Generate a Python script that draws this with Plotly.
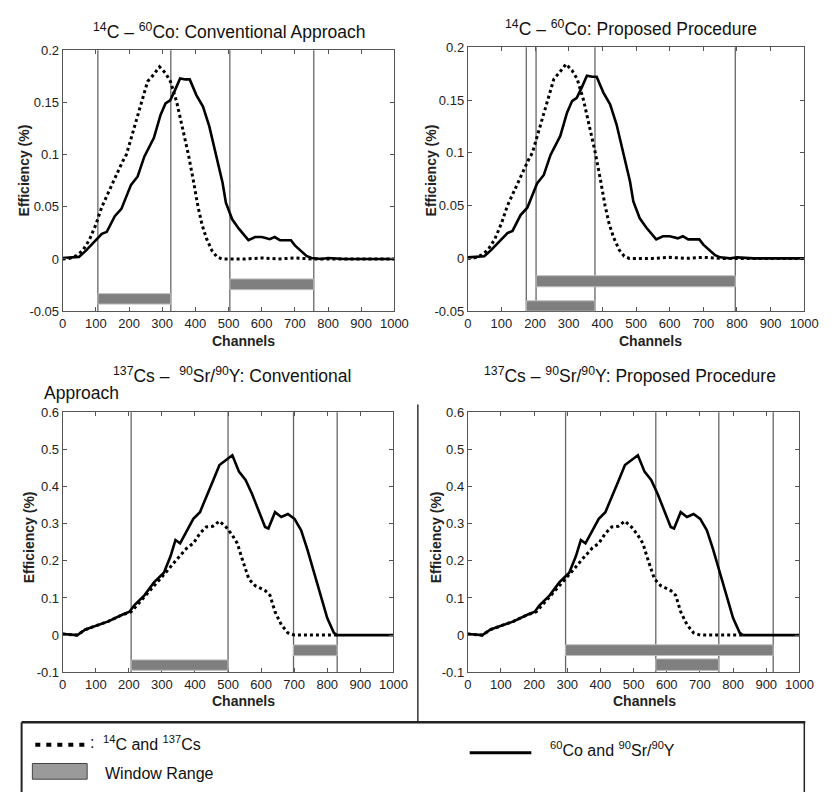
import plotly.graph_objects as go

# ---------------- data ----------------
channels_ticks = [0, 100, 200, 300, 400, 500, 600, 700, 800, 900, 1000]

# 14C (dotted) spectrum
c14_x = [0, 20, 40, 60, 80, 100, 118, 140, 160, 180, 192, 210, 236, 256, 270, 292, 310, 325,
         344, 360, 379, 394, 408, 420, 433, 450, 465, 480, 500, 550, 600, 650, 700, 750, 800, 850, 900, 950, 1000]
c14_y = [0, 0.0005, 0.003, 0.008, 0.018, 0.033, 0.05, 0.065, 0.08, 0.093, 0.10, 0.12, 0.15, 0.17, 0.175, 0.184, 0.178, 0.17,
         0.15, 0.128, 0.10, 0.075, 0.05, 0.033, 0.02, 0.008, 0.002, 0.0, 0.0, 0.0, 0.001, 0.0, 0.001, 0.0, 0.0, 0.0, 0.0, 0.0, 0.0]

# 60Co (solid) spectrum
co60_x = [0, 30, 49, 70, 90, 108, 118, 133, 145, 157, 177, 190, 206, 226, 246, 275, 295, 310, 324, 339, 354,
          370, 383, 403, 423, 442, 462, 482, 492, 511, 531, 545, 560, 580, 600, 612, 624, 639, 655, 669, 688,
          700, 718, 735, 750, 780, 800, 850, 1000]
co60_y = [0.001, 0.002, 0.002, 0.008, 0.015, 0.021, 0.024, 0.026, 0.033, 0.041, 0.048, 0.058, 0.071, 0.079, 0.098,
          0.116, 0.138, 0.149, 0.152, 0.162, 0.173, 0.172, 0.172, 0.157, 0.146, 0.127, 0.101, 0.073, 0.054, 0.038,
          0.029, 0.024, 0.018, 0.021, 0.021, 0.020, 0.019, 0.021, 0.018, 0.018, 0.018, 0.013, 0.008, 0.003, 0.001,
          0.0, 0.001, 0.0, 0.0]

# 137Cs (dotted) spectrum
cs137_x = [0, 20, 44, 69, 99, 138, 178, 207, 247, 286, 316, 345, 375, 395, 415, 434, 454, 474, 494, 513, 528,
           543, 563, 582, 612, 627, 642, 661, 681, 701, 750, 800, 830]
cs137_y = [0.003, 0.002, 0.0, 0.015, 0.024, 0.037, 0.054, 0.063, 0.103, 0.142, 0.173, 0.204, 0.234, 0.247, 0.274,
           0.291, 0.293, 0.307, 0.291, 0.269, 0.247, 0.204, 0.151, 0.133, 0.120, 0.107, 0.063, 0.028, 0.006, 0.0,
           0.0, 0.0, 0.0]

# 90Sr/90Y (solid) spectrum
sr90_x = [0, 20, 44, 69, 99, 138, 178, 202, 217, 247, 276, 306, 326, 341, 355, 375, 395, 415, 434, 454, 474, 494,
          513, 533, 553, 573, 592, 612, 622, 642, 661, 681, 701, 721, 740, 760, 780, 800, 820, 830, 900, 1000]
sr90_y = [0.003, 0.002, 0.0, 0.015, 0.024, 0.037, 0.054, 0.063, 0.081, 0.107, 0.142, 0.168, 0.212, 0.256, 0.247,
          0.282, 0.313, 0.331, 0.370, 0.414, 0.458, 0.471, 0.484, 0.440, 0.418, 0.379, 0.335, 0.291, 0.287, 0.331,
          0.318, 0.326, 0.313, 0.282, 0.230, 0.168, 0.107, 0.046, 0.006, 0.0, 0.0, 0.0]

# window ranges (channels) for each panel: [low-energy window, high-energy window]
win_tl = [[106, 326], [504, 757]]
win_tr = [[174, 378], [203, 795]]
win_bl = [[207, 500], [698, 830]]
win_br = [[567, 757], [295, 921]]

top_yticks = [-0.05, 0, 0.05, 0.1, 0.15, 0.2]
top_yticktext = ["-0.05", "0", "0.05", "0.1", "0.15", "0.2"]
bot_yticks = [-0.1, 0, 0.1, 0.2, 0.3, 0.4, 0.5, 0.6]
bot_yticktext = ["-0.1", "0", "0.1", "0.2", "0.3", "0.4", "0.5", "0.6"]

# ---------------- layout helpers ----------------
W, H = 832, 798
FONT = "Liberation Sans, Arial, sans-serif"

def px_x(p):
    return p / W

def px_y(p):
    return 1 - p / H

panels = [
    ("x", "y", (60, 399), (44, 310), [-0.05, 0.2], top_yticks, top_yticktext,
     (c14_x, c14_y), (co60_x, co60_y), win_tl, [(-0.0432, -0.0332), (-0.0294, -0.0191)]),
    ("x2", "y2", (474, 818), (41, 310), [-0.05, 0.2], top_yticks, top_yticktext,
     (c14_x, c14_y), (co60_x, co60_y), win_tr, [(-0.050, -0.0402), (-0.0269, -0.0164)]),
    ("x3", "y3", (60, 398), (413, 678), [-0.1, 0.6], bot_yticks, bot_yticktext,
     (cs137_x, cs137_y), (sr90_x, sr90_y), win_bl, [(-0.0947, -0.0667), (-0.0553, -0.0263)]),
    ("x4", "y4", (474, 813), (413, 678), [-0.1, 0.6], bot_yticks, bot_yticktext,
     (cs137_x, cs137_y), (sr90_x, sr90_y), win_br, [(-0.095, -0.064), (-0.055, -0.026)]),
]

fig = go.Figure()
shapes = []
annotations = []
layout_axes = {}

for i, (xa, ya, xd, yd, yr, yt, ytt, dotted, solid, wins, levels) in enumerate(panels):
    n = "" if i == 0 else str(i + 1)
    fig.add_trace(go.Scatter(x=dotted[0], y=dotted[1], mode="lines", xaxis=xa, yaxis=ya,
                             line=dict(color="black", width=3, dash="3px,3px"), showlegend=False,
                             hoverinfo="skip"))
    fig.add_trace(go.Scatter(x=solid[0], y=solid[1], mode="lines", xaxis=xa, yaxis=ya,
                             line=dict(color="black", width=2.6), showlegend=False, hoverinfo="skip"))
    common = dict(showline=True, linecolor="#555", linewidth=1, mirror="allticks", ticks="inside",
                  ticklen=4, tickcolor="#555", showgrid=False, zeroline=False,
                  tickfont=dict(family=FONT, size=13, color="#222"), fixedrange=True)
    layout_axes["xaxis" + n] = dict(domain=[px_x(xd[0]), px_x(xd[1])], range=[0, 1000],
                                    tickvals=channels_ticks, ticktext=[str(t) for t in channels_ticks],
                                    anchor=ya, **common)
    layout_axes["yaxis" + n] = dict(domain=[px_y(yd[1]), px_y(yd[0])], range=yr,
                                    tickvals=yt, ticktext=ytt, anchor=xa, **common)
    for (w0, w1), (b0, b1) in zip(wins, levels):
        for xv in (w0, w1):
            shapes.append(dict(type="line", xref=xa, yref=ya + " domain", x0=xv, x1=xv, y0=0, y1=1,
                               line=dict(color="#666", width=1.3), layer="below"))
        shapes.append(dict(type="rect", xref=xa, yref=ya, x0=w0, x1=w1, y0=b0, y1=b1,
                           fillcolor="#7f7f7f", line=dict(color="#bdbdbd", width=1), layer="above"))
    cx = {0: 245, 1: 661, 2: 245, 3: 655}[i]
    cy = {0: 340, 1: 340, 2: 707, 3: 707}[i]
    annotations.append(dict(text="<b>Channels</b>", x=px_x(cx), y=px_y(cy), xref="paper", yref="paper",
                            showarrow=False, font=dict(family=FONT, size=14, color="#222"),
                            xanchor="center", yanchor="middle"))
    ex = {0: 20, 1: 436, 2: 25, 3: 441}[i]
    ey = {0: 167, 1: 167, 2: 540, 3: 540}[i]
    annotations.append(dict(text="<b>Efficiency (%)</b>", x=px_x(ex), y=px_y(ey), xref="paper", yref="paper",
                            showarrow=False, textangle=-90, font=dict(family=FONT, size=14, color="#222"),
                            xanchor="center", yanchor="middle"))

# panel titles
tfont = dict(family=FONT, size=17.5, color="#111")
annotations += [
    dict(text="<sup>14</sup>C – <sup>60</sup>Co: Conventional Approach", x=px_x(230), y=px_y(24)),
    dict(text="<sup>14</sup>C – <sup>60</sup>Co: Proposed Procedure", x=px_x(641), y=px_y(21)),
    dict(text="<sup>137</sup>Cs –  <sup>90</sup>Sr/<sup>90</sup>Y: Conventional", x=px_x(233), y=px_y(375)),
    dict(text="<sup>137</sup>Cs – <sup>90</sup>Sr/<sup>90</sup>Y: Proposed Procedure", x=px_x(640), y=px_y(375)),
]
for a in annotations[-4:]:
    a.update(xref="paper", yref="paper", showarrow=False, font=tfont, xanchor="center", yanchor="middle")
annotations.append(dict(text="Approach", x=px_x(39), y=px_y(393), xref="paper", yref="paper",
                        showarrow=False, font=tfont, xanchor="left", yanchor="middle"))

# divider between bottom panels
shapes.append(dict(type="line", xref="paper", yref="paper", x0=px_x(423), x1=px_x(423),
                   y0=px_y(405), y1=px_y(729), line=dict(color="#333", width=1.5)))

# legend box
shapes += [
    dict(type="line", xref="paper", yref="paper", x0=px_x(18), x1=px_x(819), y0=px_y(729), y1=px_y(729),
         line=dict(color="#222", width=2.5)),
    dict(type="line", xref="paper", yref="paper", x0=px_x(18), x1=px_x(18), y0=px_y(729), y1=px_y(800),
         line=dict(color="#222", width=2)),
    dict(type="line", xref="paper", yref="paper", x0=px_x(818), x1=px_x(818), y0=px_y(729), y1=px_y(800),
         line=dict(color="#222", width=1.5)),
    dict(type="line", xref="paper", yref="paper", x0=px_x(32), x1=px_x(84), y0=px_y(752), y1=px_y(752),
         line=dict(color="black", width=4, dash="5px,6px")),
    dict(type="rect", xref="paper", yref="paper", x0=px_x(29), x1=px_x(85), y0=px_y(787), y1=px_y(771),
         fillcolor="#9a9a9a", line=dict(color="#444", width=1)),
    dict(type="line", xref="paper", yref="paper", x0=px_x(476), x1=px_x(539), y0=px_y(760), y1=px_y(760),
         line=dict(color="black", width=3)),
]
lfont = dict(family=FONT, size=16, color="#111")
annotations += [
    dict(text=":", x=px_x(86), y=px_y(750), xanchor="left"),
    dict(text="<sup>14</sup>C and <sup>137</sup>Cs", x=px_x(99), y=px_y(750), xanchor="left"),
    dict(text="Window Range", x=px_x(101), y=px_y(781), xanchor="left"),
    dict(text="<sup>60</sup>Co and <sup>90</sup>Sr/<sup>90</sup>Y", x=px_x(556), y=px_y(756), xanchor="left"),
]
for a in annotations[-4:]:
    a.update(xref="paper", yref="paper", showarrow=False, font=lfont, yanchor="middle")

fig.update_layout(width=W, height=H, margin=dict(l=0, r=0, t=0, b=0), paper_bgcolor="white",
                  plot_bgcolor="white", showlegend=False, shapes=shapes, annotations=annotations,
                  **layout_axes)

fig.write_html("out.html")
